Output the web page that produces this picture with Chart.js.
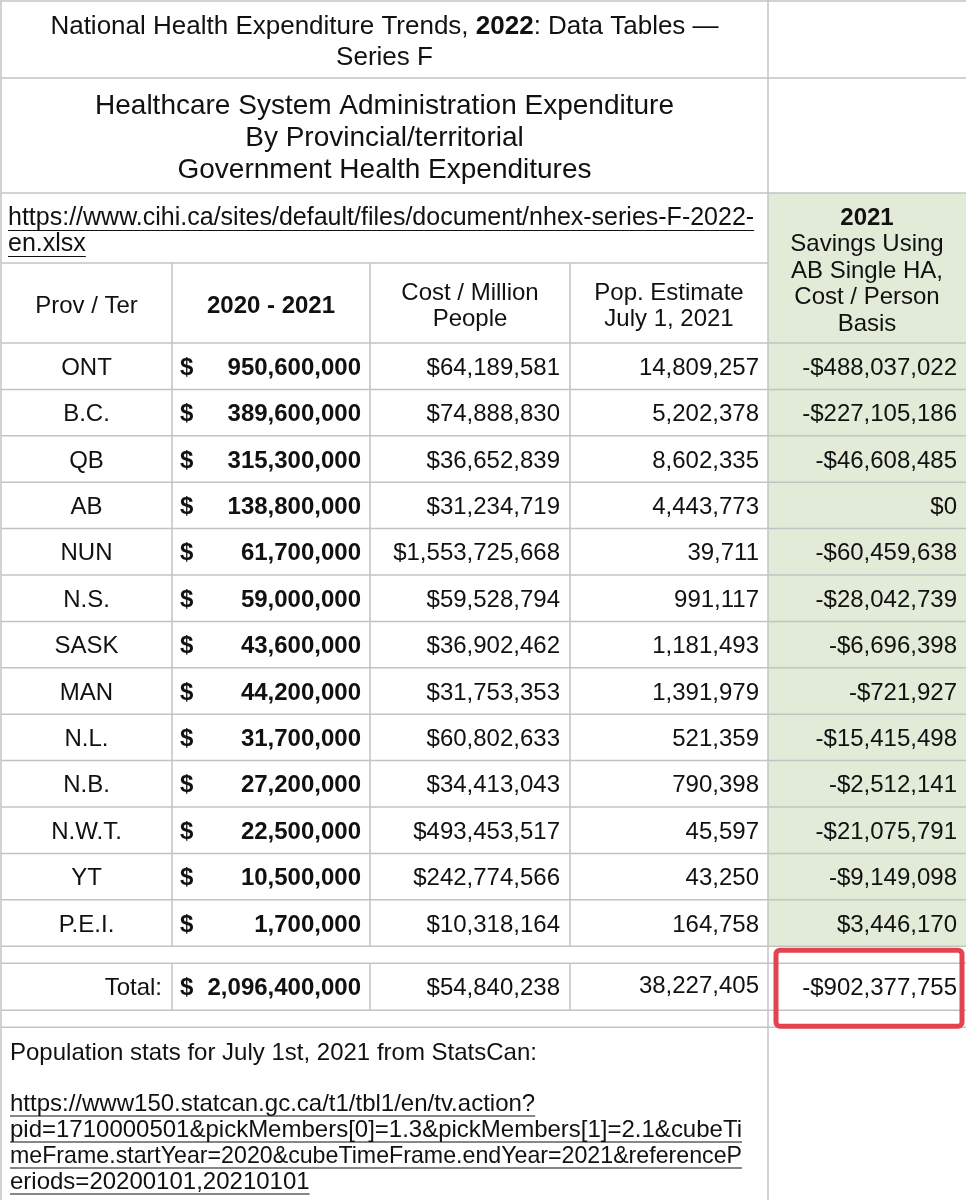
<!DOCTYPE html>
<html>
<head>
<meta charset="utf-8">
<script src="https://cdn.jsdelivr.net/npm/chart.js@4.4.0/dist/chart.umd.min.js"></script>
<style>
  html, body { margin: 0; padding: 0; background: #fff; }
  canvas { display: block; }
</style>
</head>
<body>
<canvas id="myChart" width="966" height="1200"></canvas>
<script>
// table values
const provinces = ['ONT', 'B.C.', 'QB', 'AB', 'NUN', 'N.S.', 'SASK', 'MAN', 'N.L.', 'N.B.', 'N.W.T.', 'YT', 'P.E.I.'];
const adminCost = [950600000, 389600000, 315300000, 138800000, 61700000, 59000000, 43600000, 44200000, 31700000, 27200000, 22500000, 10500000, 1700000];
const costPerMillion = [64189581, 74888830, 36652839, 31234719, 1553725668, 59528794, 36902462, 31753353, 60802633, 34413043, 493453517, 242774566, 10318164];
const population = [14809257, 5202378, 8602335, 4443773, 39711, 991117, 1181493, 1391979, 521359, 790398, 45597, 43250, 164758];
const savings = [-488037022, -227105186, -46608485, 0, -60459638, -28042739, -6696398, -721927, -15415498, -2512141, -21075791, -9149098, 3446170];

const totalLabel = 'Total:';
const adminTotal = 2096400000;
const costTotal = 54840238;
const popTotal = 38227405;
const savingsTotal = -902377755;

const titleLines = ['Series F'];
const subtitleLines = ['Healthcare System Administration Expenditure', 'By Provincial/territorial', 'Government Health Expenditures'];
const sourceUrl = ['https://www.cihi.ca/sites/default/files/document/nhex-series-F-2022-', 'en.xlsx'];
const colHeaders = [['Prov / Ter'], ['2020 - 2021'], ['Cost / Million', 'People'], ['Pop. Estimate', 'July 1, 2021']];
const savingsHeader = ['2021', 'Savings Using', 'AB Single HA,', 'Cost / Person', 'Basis'];
const noteText = 'Population stats for July 1st, 2021 from StatsCan:';
const noteUrl = [
  'https://www150.statcan.gc.ca/t1/tbl1/en/tv.action?',
  'pid=1710000501&pickMembers[0]=1.3&pickMembers[1]=2.1&cubeTi',
  'meFrame.startYear=2020&cubeTimeFrame.endYear=2021&referenceP',
  'eriods=20200101,20210101'
];

// layout (in scale units)
const colEdges = [1, 172, 370, 570, 768, 966];
const dataTop = 343;
const rowH = 46.4;
const FONT = '"Liberation Sans", Arial, Helvetica, sans-serif';
const GRID = '#c3c3c3';
const GREEN = '#e1ebd8';
const INK = '#111';

const fmt = (n) => Math.abs(n).toLocaleString('en-US');
const money = (n) => (n < 0 ? '-' : '') + '$' + fmt(n);

const tablePlugin = {
  id: 'tableDraw',
  afterDraw(chart) {
    const ctx = chart.ctx;
    const X = (v) => chart.scales.x.getPixelForValue(v);
    const Y = (v) => chart.scales.y.getPixelForValue(v) + 2; // middle baseline sits a bit high
    const G = (v) => chart.scales.y.getPixelForValue(v);

    const text = (str, x, y, o = {}) => {
      const size = o.size || 24;
      ctx.font = (o.bold ? 'bold ' : '') + size + 'px ' + FONT;
      ctx.fillStyle = INK;
      ctx.textAlign = o.align || 'left';
      ctx.textBaseline = 'middle';
      if (o.maxWidth) ctx.fillText(str, X(x), Y(y), o.maxWidth);
      else ctx.fillText(str, X(x), Y(y));
      if (o.underline) {
        let w = ctx.measureText(str).width;
        if (o.maxWidth) w = Math.min(w, o.maxWidth);
        let x0 = X(x);
        if (o.align === 'center') x0 -= w / 2;
        if (o.align === 'right') x0 -= w;
        ctx.strokeStyle = INK;
        ctx.lineWidth = 1.2;
        ctx.beginPath();
        ctx.moveTo(x0, Y(y) + size * 0.5);
        ctx.lineTo(x0 + w, Y(y) + size * 0.5);
        ctx.stroke();
      }
    };

    const hline = (y, x0, x1) => {
      ctx.strokeStyle = GRID;
      ctx.lineWidth = 1.5;
      ctx.beginPath();
      ctx.moveTo(X(x0), G(y));
      ctx.lineTo(X(x1), G(y));
      ctx.stroke();
    };
    const vline = (x, y0, y1) => {
      ctx.strokeStyle = GRID;
      ctx.lineWidth = 1.5;
      ctx.beginPath();
      ctx.moveTo(X(x), G(y0));
      ctx.lineTo(X(x), G(y1));
      ctx.stroke();
    };

    const dataBottom = dataTop + rowH * provinces.length;
    const totalTop = dataBottom + 17;
    const totalBottom = totalTop + 47;
    const noteTop = totalBottom + 17;

    // green savings column
    ctx.fillStyle = GREEN;
    ctx.fillRect(X(colEdges[4]), G(193), X(colEdges[5]) - X(colEdges[4]), G(dataBottom) - G(193));

    // grid
    [1, 78, 193, 343, totalTop, totalBottom, noteTop].forEach(y => hline(y, colEdges[0], colEdges[5]));
    hline(263, colEdges[0], colEdges[4]);
    provinces.forEach((p, i) => hline(dataTop + rowH * (i + 1), colEdges[0], colEdges[5]));
    vline(colEdges[0], 0, 1200);
    vline(colEdges[4], 0, 1200);
    [1, 2, 3].forEach(c => {
      vline(colEdges[c], 263, dataBottom);
      vline(colEdges[c], totalTop, totalBottom);
    });

    // title
    const midL = (colEdges[0] + colEdges[4]) / 2;
    const segs = [['National Health Expenditure Trends, ', false], ['2022', true], [': Data Tables —', false]];
    let tw = 0;
    segs.forEach(([s, b]) => { ctx.font = (b ? 'bold ' : '') + '26px ' + FONT; tw += ctx.measureText(s).width; });
    let cx = X(midL) - tw / 2;
    segs.forEach(([s, b]) => {
      ctx.font = (b ? 'bold ' : '') + '26px ' + FONT;
      ctx.fillStyle = INK;
      ctx.textAlign = 'left';
      ctx.textBaseline = 'middle';
      ctx.fillText(s, cx, Y(25));
      cx += ctx.measureText(s).width;
    });
    titleLines.forEach((s, i) => text(s, midL, 56 + i * 31, { size: 26, align: 'center' }));
    subtitleLines.forEach((s, i) => text(s, midL, 104 + i * 32, { size: 28, align: 'center' }));

    // source link
    sourceUrl.forEach((s, i) => text(s, 8, 216 + i * 26, { size: 25, underline: true }));

    // column headers
    const centers = [1, 2, 3].map(c => (colEdges[c - 1] + colEdges[c]) / 2);
    colHeaders.forEach((lines, c) => {
      const y0 = 304 - (lines.length - 1) * 13;
      lines.forEach((s, i) => text(s, (colEdges[c] + colEdges[c + 1]) / 2, y0 + i * 26, { bold: c === 1, align: 'center' }));
    });
    const midG = (colEdges[4] + colEdges[5]) / 2;
    savingsHeader.forEach((s, i) => text(s, midG, 216 + i * 26.5, { bold: i === 0, align: 'center' }));

    // data rows
    provinces.forEach((p, i) => {
      const y = dataTop + rowH * (i + 0.5);
      text(p, centers[0], y, { align: 'center' });
      text('$', colEdges[1] + 8, y, { bold: true });
      text(fmt(adminCost[i]), colEdges[2] - 9, y, { bold: true, align: 'right' });
      text(money(costPerMillion[i]), colEdges[3] - 10, y, { align: 'right' });
      text(fmt(population[i]), colEdges[4] - 9, y, { align: 'right' });
      text(money(savings[i]), colEdges[5] - 9, y, { align: 'right' });
    });

    // total row
    const ty = (totalTop + totalBottom) / 2;
    text(totalLabel, colEdges[1] - 10, ty, { align: 'right' });
    text('$', colEdges[1] + 8, ty, { bold: true });
    text(fmt(adminTotal), colEdges[2] - 9, ty, { bold: true, align: 'right' });
    text(money(costTotal), colEdges[3] - 10, ty, { align: 'right' });
    text(fmt(popTotal), colEdges[4] - 9, ty - 2, { align: 'right' });
    text(money(savingsTotal), colEdges[5] - 9, ty, { align: 'right' });

    // red highlight
    ctx.strokeStyle = '#e2434f';
    ctx.lineWidth = 5;
    ctx.beginPath();
    ctx.roundRect(X(776), G(dataBottom + 4), X(962) - X(776), G(noteTop - 1) - G(dataBottom + 4), 4);
    ctx.stroke();

    // notes
    text(noteText, 10, 1051, { size: 24 });
    noteUrl.forEach((s, i) => text(s, 10, 1102 + i * 26, { size: 24, underline: true, maxWidth: 732 }));
  }
};

new Chart(document.getElementById('myChart').getContext('2d'), {
  type: 'scatter',
  data: { datasets: [] },
  options: {
    responsive: false,
    animation: false,
    layout: { padding: 0 },
    plugins: { legend: { display: false }, tooltip: { enabled: false } },
    scales: {
      x: { type: 'linear', display: false, min: 0, max: 966 },
      y: { type: 'linear', display: false, min: 0, max: 1200, reverse: true }
    }
  },
  plugins: [tablePlugin]
});
</script>
</body>
</html>
